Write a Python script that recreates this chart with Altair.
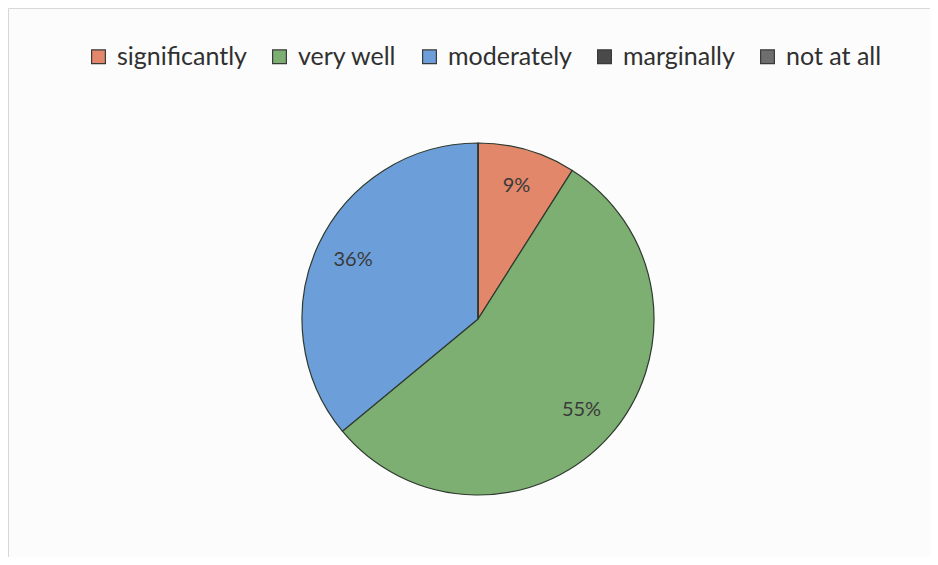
import altair as alt
import pandas as pd

categories = ["significantly", "very well", "moderately", "marginally", "not at all"]
values = [9, 55, 36, 0, 0]
labels = ["9%", "55%", "36%", "", ""]
colors = ["#E2876A", "#7DAE72", "#6C9FDA", "#4A4A4A", "#6E6E6E"]

df = pd.DataFrame({"category": categories, "value": values, "label": labels,
                   "idx": list(range(len(categories)))})

color = alt.Color("category:N", sort=categories,
                  scale=alt.Scale(domain=categories, range=colors),
                  legend=alt.Legend(title=None, orient="none", direction="horizontal",
                                    legendX=78, legendY=36, columns=5,
                                    symbolType="square", symbolSize=190,
                                    symbolStrokeColor="#3a3a3a", symbolStrokeWidth=1.2,
                                    symbolOpacity=1,
                                    labelFont="Lato", labelFontSize=25, labelColor="#303030",
                                    labelOffset=6, columnPadding=20))

base = alt.Chart(df).encode(
    theta=alt.Theta("value:Q", stack=True),
    order=alt.Order("idx:Q"),
)

pie = base.mark_arc(radius=176, stroke="#2f3a2f", strokeWidth=1.2, opacity=1).encode(
    color=color,
    x=alt.value(470), y=alt.value(311),
)

text = base.mark_text(radius=138, font="Lato", fontSize=20, color="#3a3a3a").encode(
    text="label:N",
    x=alt.value(470), y=alt.value(311),
)

chart = alt.layer(pie, text).properties(
    width=922, height=549, padding=0, background="#fcfcfc"
).configure_view(stroke="#d8d8d8", strokeWidth=1)

chart.save("out.html", embed_options={"renderer": "svg", "actions": False})
